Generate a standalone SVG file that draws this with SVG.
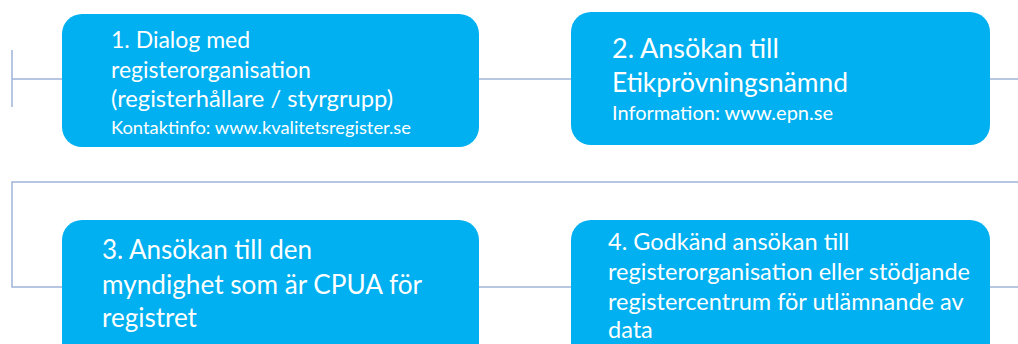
<svg xmlns="http://www.w3.org/2000/svg" width="1018" height="344" viewBox="0 0 1018 344">
<style>
.box{fill:#00B0F0;}
.t{fill:#ffffff;font-family:Lato,"Open Sans",sans-serif;}
.con{stroke:#9FB4D9;stroke-width:1.5;fill:none;}
</style>
<rect width="1018" height="344" fill="#ffffff"/>
<g id="connectors" class="con">
<path d="M12 50V107M12 79H62"/>
<path d="M479 79H571"/>
<path d="M990 79H1018"/>
<path d="M1018 182H12V287H62"/>
<path d="M479 287H571"/>
<path d="M990 287H1018"/>
</g>
<g id="node1">
<rect class="box" x="62" y="14" width="417" height="133" rx="20"/>
<text class="t" x="111" y="48" font-size="23">1. Dialog med</text>
<text class="t" x="111" y="78" font-size="23">registerorganisation</text>
<text class="t" x="111" y="107" font-size="23" textLength="282" lengthAdjust="spacingAndGlyphs">(registerhållare / styrgrupp)</text>
<text class="t" x="111" y="134" font-size="17" textLength="300" lengthAdjust="spacingAndGlyphs">Kontaktinfo: www.kvalitetsregister.se</text>
</g>
<g id="node2">
<rect class="box" x="571" y="12" width="419" height="133" rx="20"/>
<text class="t" x="612" y="58" font-size="27">2. Ansökan till</text>
<text class="t" x="612" y="92" font-size="27" textLength="236" lengthAdjust="spacingAndGlyphs">Etikprövningsnämnd</text>
<text class="t" x="612" y="120" font-size="19.5" textLength="221" lengthAdjust="spacingAndGlyphs">Information: www.epn.se</text>
</g>
<g id="node3">
<rect class="box" x="62" y="220" width="417" height="150" rx="20"/>
<text class="t" x="102" y="259" font-size="26">3. Ansökan till den</text>
<text class="t" x="102" y="294" font-size="26" textLength="320" lengthAdjust="spacingAndGlyphs">myndighet som är CPUA för</text>
<text class="t" x="102" y="327" font-size="26">registret</text>
</g>
<g id="node4">
<rect class="box" x="571" y="220" width="419" height="150" rx="20"/>
<text class="t" x="608" y="250" font-size="23.5">4. Godkänd ansökan till</text>
<text class="t" x="608" y="280" font-size="23.5" textLength="362" lengthAdjust="spacingAndGlyphs">registerorganisation eller stödjande</text>
<text class="t" x="608" y="310" font-size="23.5">registercentrum för utlämnande av</text>
<text class="t" x="608" y="338" font-size="23.5">data</text>
</g>
</svg>
